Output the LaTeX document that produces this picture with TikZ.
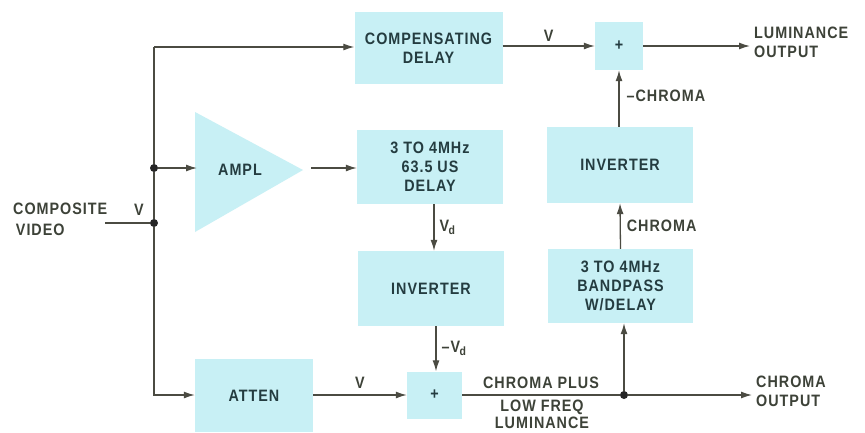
\documentclass[tikz,border=0pt]{standalone}
\usepackage{fontspec}
\setmainfont[FakeStretch=0.87,LetterSpace=6]{Liberation Sans}
\usetikzlibrary{arrows.meta}
\definecolor{boxfill}{HTML}{C8F0F5}
\definecolor{linecol}{HTML}{4B4B42}
\definecolor{labcol}{HTML}{3D4238}
\definecolor{boxtext}{HTML}{243C40}
\tikzset{
  blk/.style={fill=boxfill, draw=none, inner sep=0pt, align=center, text=boxtext},
  lab/.style={inner sep=0pt, text=labcol, align=left},
  wire/.style={draw=linecol, line width=1.3pt},
  arr/.style={wire, -{Latex[length=11pt,width=7pt]}},
  dot/.style={circle, fill=black!85, inner sep=0pt, minimum size=8pt}
}
\newcommand{\Vd}{V\kern-0.5pt\raisebox{-0.35ex}{\fontsize{12}{12}\selectfont d}}
\begin{document}
\begin{tikzpicture}[x=1pt,y=-1pt, font=\fontsize{16.5}{19}\selectfont\bfseries]
\useasboundingbox (0,0) rectangle (865,432);
\fill[white] (0,0) rectangle (865,432);
% blocks
\node[blk, minimum width=148pt, minimum height=72pt] (cd) at (428.5,48) {COMPENSATING\\DELAY};
\node[blk, minimum width=48pt, minimum height=48pt] (sumA) at (619,46) {+};
\node[blk, minimum width=146pt, minimum height=76pt] (invA) at (620,165) {INVERTER};
\node[blk, minimum width=145pt, minimum height=74pt] (bp) at (620.5,286) {3 TO 4MHz\\BANDPASS\\W/DELAY};
\node[blk, minimum width=146pt, minimum height=74pt] (dly) at (430,167) {3 TO 4MHz\\63.5 US\\DELAY};
\node[blk, minimum width=146pt, minimum height=75pt] (invB) at (431,288.5) {INVERTER};
\node[blk, minimum width=55pt, minimum height=47pt] (sumB) at (434.5,395) {+};
\node[blk, minimum width=118pt, minimum height=73pt] (atten) at (254,395.5) {ATTEN};
% amplifier triangle
\fill[boxfill] (195,112) -- (303,170) -- (195,232) -- cycle;
\node[blk, fill=none] (ampl) at (240,170) {AMPL};
\coordinate (amplin) at (197,168);
\coordinate (amplout) at (311,168);
% junctions
\coordinate (jTop) at (154,47);
\node[dot] (jA) at (154,168) {};
\node[dot] (jB) at (154,223) {};
\coordinate (jC) at (154,395);
\node[dot] (jD) at (624,395) {};
% labels
\node[lab, anchor=north west, font=\fontsize{16.5}{21}\selectfont\bfseries] (comp) at (13,203) {COMPOSITE\\\,VIDEO};
\coordinate (compend) at (105,223);
\node[lab, anchor=west] (lum) at (754,42) {LUMINANCE\\OUTPUT};
\coordinate (lumend) at (750,44);
\node[lab, anchor=west] (chout) at (756,391) {CHROMA\\OUTPUT};
\coordinate (choutend) at (752,395);
% wires
\draw[wire] (compend) -- (jB);
\draw[wire] (jB) -- (jA);
\draw[wire] (jA) -- (jTop);
\draw[arr] (jTop) -- (cd.west |- jTop);
\draw[arr] (jA) -- (amplin);
\draw[arr] (jB) -- (jC) -- (atten.west |- jC);
\draw[arr] (amplout) -- (dly.west |- amplout);
\draw[arr] (cd.east |- sumA) -- node[lab, above=4pt] (vA) {V} (sumA.west);
\draw[arr] (sumA.east) -- (lumend |- sumA);
\draw[arr] (invA.north -| sumA) -- node[lab, right=7pt, pos=0.55] (mchroma) {–CHROMA} (sumA.south);
\draw[arr] (bp.north) -- node[lab, right=6pt, pos=0.5] (chroma) {CHROMA} (invA.south);
\draw[arr] (dly.south -| 434,0) -- node[lab, right=5pt, pos=0.5] (vd) {\Vd} (invB.north -| 434,0);
\draw[arr] (invB.south -| 436,0) -- node[lab, right=5pt, pos=0.5] (mvd) {–\Vd} (sumB.north -| 436,0);
\draw[arr] (atten.east |- sumB) -- node[lab, above=6pt] (vB) {V} (sumB.west);
\draw[wire] (sumB.east) -- node[lab, above=6pt, pos=0.5] (cpl) {CHROMA PLUS} (jD);
\draw[arr] (jD) -- (choutend |- jD);
\draw[arr] (jD) -- (bp.south -| jD);
\node[lab, align=center, font=\fontsize{16.5}{17}\selectfont\bfseries] (lfl) at (542,414) {LOW FREQ\\LUMINANCE};
\node[lab] (vC) at (139,210) {V};
\end{tikzpicture}
\end{document}
